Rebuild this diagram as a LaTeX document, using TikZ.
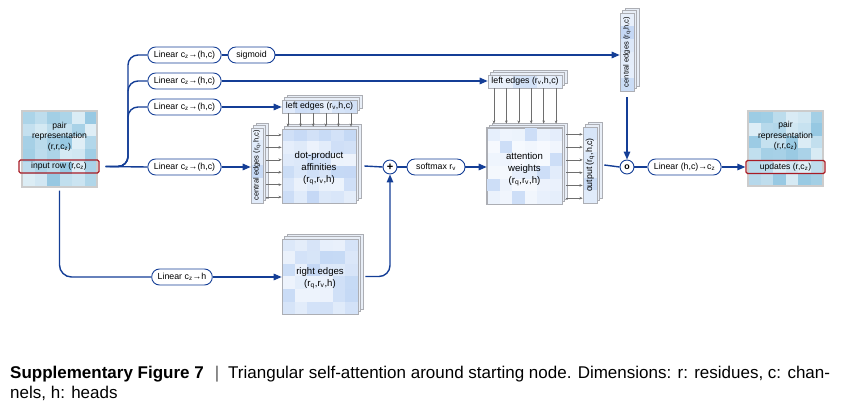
\documentclass[tikz,border=0pt]{standalone}
\usepackage{fontspec}
\setmainfont{Liberation Sans}
\usetikzlibrary{arrows.meta,calc}

\definecolor{lineblue}{RGB}{20,62,150}
\definecolor{rowred}{RGB}{168,28,38}
\definecolor{pairblue}{RGB}{150,200,226}
\definecolor{cellblue}{RGB}{196,216,245}
\definecolor{attnblue}{RGB}{226,236,251}
\definecolor{backfill}{RGB}{232,238,247}
\definecolor{cardedge}{RGB}{172,174,180}
\definecolor{tickgray}{RGB}{110,110,110}

\newcommand{\opfont}{\fontsize{8.8}{10.5}\selectfont}
\newcommand{\cardfont}{\fontsize{9.6}{12}\selectfont}
\newcommand{\pairfont}{\fontsize{8.6}{10.5}\selectfont}
\newcommand{\edgefont}{\fontsize{8.8}{10}\selectfont}
\newcommand{\cenfont}{\fontsize{7.5}{9}\selectfont}
\newcommand{\capfont}{\fontsize{17}{20}\selectfont}

% heat map cells: x0, y0, w, h, nx, ny, colour, seed
\newcommand{\cells}[8]{%
  \foreach \i in {1,...,#5} {
    \foreach \j in {1,...,#6} {
      \pgfmathtruncatemacro{\p}{30+mod(mod(\i*17+\j*29+#8*41,97)*(\i+2*\j)+\i*\i*\j,71)}
      \fill[#7!\p!white] ({#1+(\i-1)*#3/#5},{#2+(\j-1)*#4/#6}) rectangle ++({#3/#5},{#4/#6});
    }
  }
}
% stack of cards: name, x0, y0, w, h, nx, ny, colour, seed
\newcommand{\stack}[9]{%
  \foreach \k in {2,1}
    \draw[cardedge, line width=0.6pt, fill=backfill] ({#2+2.5*\k},{#3-2.5*\k}) rectangle ++(#4,#5);
  \cells{#2}{#3}{#4}{#5}{#6}{#7}{#8}{#9}
  \node[card, minimum width=#4pt, minimum height=#5pt] (#1) at ({#2+#4/2},{#3+#5/2}) {};
}

\tikzset{
  flow/.style={draw=lineblue, line width=1.4pt},
  arr/.style={flow, -{Triangle[length=8pt,width=6.5pt]}},
  op/.style={draw=lineblue, line width=0.9pt, fill=white, rounded corners=7.8pt,
    minimum height=16pt, inner xsep=6pt, inner ysep=0pt, font=\opfont},
  dot/.style={circle, draw=lineblue, line width=0.9pt, fill=white, minimum size=14pt, inner sep=0pt},
  card/.style={draw=cardedge, line width=0.6pt, inner sep=0pt},
  cardtext/.style={align=center, font=\cardfont, inner sep=0pt},
  pairtext/.style={align=center, font=\pairfont, inner sep=0pt},
  tick/.style={draw=tickgray, line width=0.5pt, -{Stealth[length=3.2pt,width=2.6pt]}},
  rowbox/.style={draw=rowred, line width=1.3pt, rounded corners=1.5pt, minimum width=80pt,
    minimum height=13pt, inner sep=0pt, font=\pairfont},
}

\begin{document}
\begin{tikzpicture}[x=1pt, y=-1pt]
	\useasboundingbox (0,0) rectangle (841,406);

	% pair representation in
	\cells{22}{111}{75}{76}{6}{6}{pairblue}{1}
	\node[card, draw=gray!40, line width=1.2pt, minimum width=75pt, minimum height=76pt] (pairL) at (59.5,149) {};
	\node[pairtext] (pairLtxt) at (59.5,136.5) {pair\\representation\\(r,r,c\textsubscript{z})};
	\node[rowbox] (inrow) at (59,166.5) {input row (r,c\textsubscript{z})};

	% projections
	\node[op] (linA) at (184.5,55) {Linear c\textsubscript{z}→(h,c)};
	\node[op] (linB) at (184.5,81) {Linear c\textsubscript{z}→(h,c)};
	\node[op] (linC) at (184.5,107) {Linear c\textsubscript{z}→(h,c)};
	\node[op] (linD) at (184.5,167) {Linear c\textsubscript{z}→(h,c)};
	\node[op, minimum width=47pt] (sigm) at (251.5,55) {sigmoid};
	\node[op] (linH) at (182,277) {Linear c\textsubscript{z}→h};

	% edge stacks
	\stack{leftD}{282}{100}{75}{13}{6}{1}{cellblue}{2}
	\stack{cenD}{251}{128}{12}{75}{1}{6}{cellblue}{3}
	\stack{dotp}{282}{129}{74}{74}{6}{6}{cellblue}{4}
	\stack{rightE}{282}{239}{76}{75}{6}{6}{cellblue}{5}
	\stack{leftA}{488}{75}{74}{13}{6}{1}{cellblue}{6}
	\stack{attn}{487}{128}{75}{76}{6}{6}{attnblue}{7}
	\foreach \c/\r in {3/0,1/1,5/2,4/3,0/4,2/5}
		\fill[cellblue!85] ({487+\c*12.5},{128+\r*76/6}) rectangle ++(12.5,{76/6});
	\draw[cardedge, line width=0.6pt] (attn.north west) rectangle (attn.south east);
	\stack{outC}{583}{127}{14}{76}{1}{6}{cellblue}{8}
	\stack{cenT}{620}{13}{14}{78}{1}{6}{cellblue}{9}

	\node[font=\edgefont] (leftDtxt) at (leftD) {left edges (r\textsubscript{v},h,c)};
	\node[font=\edgefont] (leftAtxt) at (leftA) {left edges (r\textsubscript{v},h,c)};
	\node[font=\cenfont, rotate=90] (cenDtxt) at (cenD) {central edges (r\textsubscript{q},h,c)};
	\node[font=\cenfont, rotate=90] (cenTtxt) at (cenT) {central edges (r\textsubscript{q},h,c)};
	\node[font=\edgefont, rotate=90] (outCtxt) at (outC) {output (r\textsubscript{q},h,c)};
	\node[cardtext] (dotptxt) at (319,168) {dot-product\\affinities\\(r\textsubscript{q},r\textsubscript{v},h)};
	\node[cardtext] (rightEtxt) at (320,278) {right edges\\(r\textsubscript{q},r\textsubscript{v},h)};
	\node[cardtext] (attntxt) at (524.5,169) {attention\\weights\\(r\textsubscript{q},r\textsubscript{v},h)};

	% small arrows between stacks
	\foreach \f in {1,...,6} {
		\path ($(leftD.south west)!{(\f-0.5)/6}!(leftD.south east)$) coordinate (p);
		\draw[tick] (p) -- ([yshift=2pt]p |- dotp.north);
		\path ($(dotp.north west)!{(\f-0.5)/6}!(dotp.south west)$) coordinate (p);
		\draw[tick] ([xshift=3pt]p -| cenD.east) -- (p);
		\path ($(leftA.south west)!{(\f-0.5)/6}!(leftA.south east)$) coordinate (p);
		\draw[tick] (p) -- ([yshift=4pt]p |- attn.north);
		\path ($(outC.north west)!{(\f-0.4)/6}!(outC.south west)$) coordinate (p);
		\draw[tick] ([xshift=4pt]p -| attn.east) -- (p);
	}

	% operators
	\node[dot, font=\fontsize{11}{11}\selectfont\bfseries] (plus) at (390,167) {+};
	\node[op, minimum width=58pt] (soft) at (436,167) {softmax r\textsubscript{v}};
	\node[dot, font=\opfont\bfseries] (hada) at (627,167) {o};
	\node[op] (linO) at (684.5,167) {Linear (h,c)→c\textsubscript{z}};

	% pair representation out
	\cells{748}{111}{75}{75}{6}{6}{pairblue}{10}
	\node[card, draw=gray!40, line width=1.2pt, minimum width=75pt, minimum height=75pt] (pairR) at (785.5,148.5) {};
	\node[pairtext] (pairRtxt) at (785.5,136) {pair\\representation\\(r,r,c\textsubscript{z})};
	\node[rowbox, minimum width=79pt] (upd) at (785.5,167) {updates (r,c\textsubscript{z})};

	% connections
	\draw[flow, rounded corners=10pt] ([xshift=6pt]inrow.east) -| (128,0 |- linA.west) -- (linA.west);
	\draw[flow, rounded corners=10pt] ([xshift=6pt]inrow.east) -| (128,0 |- linB.west) -- (linB.west);
	\draw[flow, rounded corners=10pt] ([xshift=6pt]inrow.east) -| (128,0 |- linC.west) -- (linC.west);
	\draw[flow] ([xshift=6pt]inrow.east) -- (linD.west);
	\draw[flow] (linA.east) -- (sigm.west);
	\draw[arr] (sigm.east) -- (sigm.east -| cenT.west);
	\draw[arr] (linB.east) -- (linB.east -| leftA.west);
	\draw[arr] (linC.east) -- (linC.east -| leftD.west);
	\draw[arr] (linD.east) -- (linD.east -| cenD.west);
	\draw[flow, rounded corners=12pt] ([yshift=-3pt]pairL.south) |- (linH.west);
	\draw[arr] (linH.east) -- (linH.east -| rightE.west);
	\draw[arr, rounded corners=11pt] ([xshift=7pt]rightE.east) -| (plus.south);
	\draw[flow] ([xshift=8pt]dotp.east) -- (plus.west);
	\draw[flow] (plus.east) -- (soft.west);
	\draw[arr] (soft.east) -- (soft.east -| attn.west);
	\draw[flow] ([xshift=7pt]outC.east) -- (hada.west);
	\draw[arr] ([yshift=-6pt]cenT.south) -- (hada.north);
	\draw[flow] (hada.east) -- (linO.west);
	\draw[arr] (linO.east) -- (upd.west);

	% caption
	\node[anchor=base west, font=\capfont\bfseries, inner sep=0pt] (capHead) at (10,378) {Supplementary Figure 7};
	\node[anchor=base, font=\capfont, text=gray!70!black, inner sep=0pt] (capBar) at (217,378) {|};
	\node[anchor=base west, font=\capfont, inner sep=0pt] (capLine) at (228,378) {Triangular self-attention around starting node. Dimensions: r: residues, c: chan-};
	\node[anchor=base west, font=\capfont, inner sep=0pt] (capEnd) at (10,398) {nels, h: heads};
\end{tikzpicture}
\end{document}
